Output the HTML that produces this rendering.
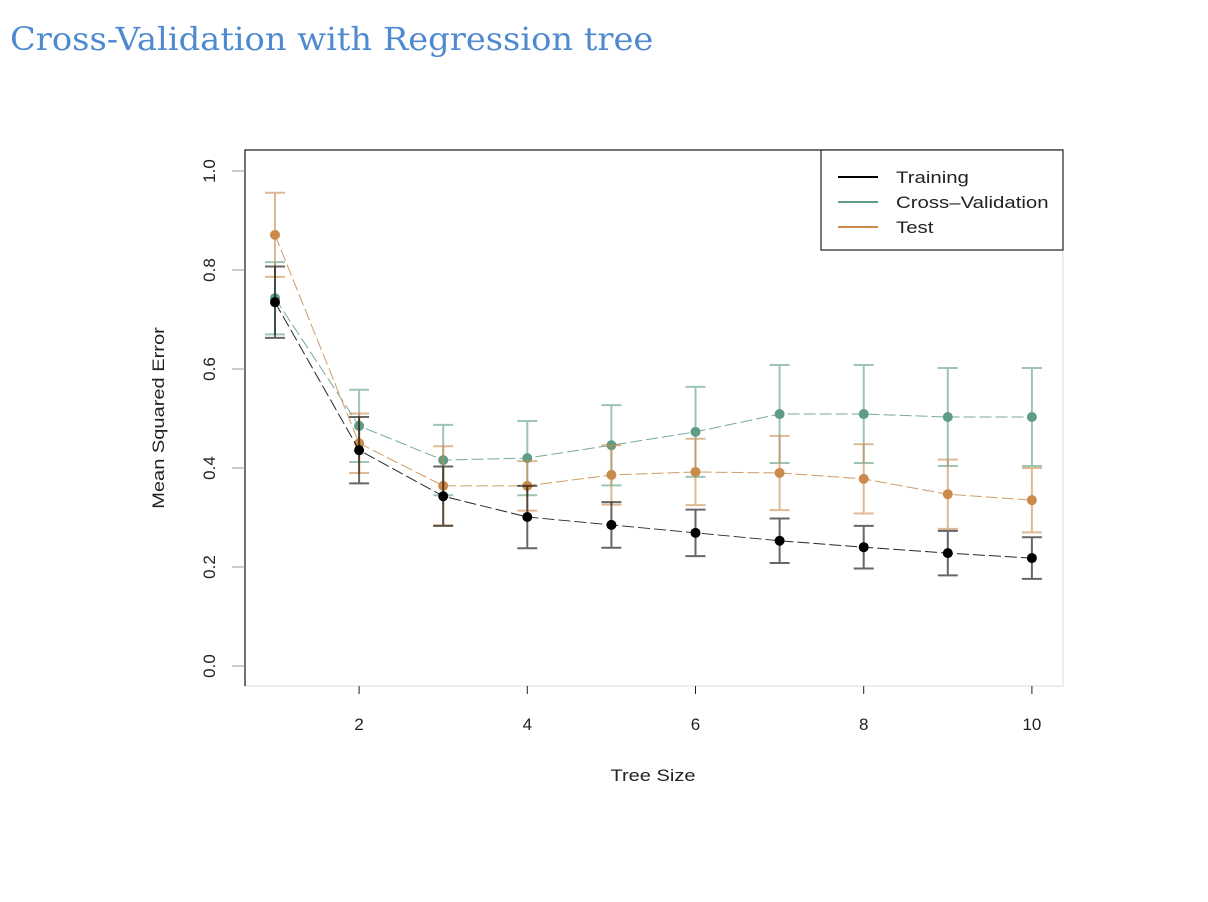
<!DOCTYPE html>
<html><head><meta charset="utf-8"><style>
body{margin:0;background:#fff;width:1208px;height:902px;overflow:hidden}
h1{position:absolute;left:10px;top:20px;margin:0;font:32px "DejaVu Serif","Liberation Serif",serif;color:#4f8ad0;font-weight:normal;white-space:nowrap;transform:scaleX(1.053);transform-origin:0 0}
svg{position:absolute;left:0;top:0}
text{font-family:"Liberation Sans",sans-serif;font-size:17px;fill:#222}
</style></head><body>
<h1>Cross-Validation with Regression tree</h1>
<svg id="c" width="1208" height="902"></svg>
<script>
const sizes=[1,2,3,4,5,6,7,8,9,10];
const trainVals=[0.735,0.436,0.343,0.301,0.285,0.269,0.253,0.240,0.228,0.218];
const trainSE=[0.072,0.067,0.06,0.063,0.046,0.047,0.045,0.043,0.045,0.042];
const cvVals=[0.743,0.485,0.416,0.420,0.446,0.473,0.509,0.509,0.503,0.503];
const cvSE=[0.073,0.073,0.071,0.075,0.081,0.091,0.099,0.099,0.099,0.099];
const testVals=[0.871,0.450,0.364,0.364,0.386,0.392,0.390,0.378,0.347,0.335];
const testSE=[0.085,0.06,0.08,0.05,0.06,0.067,0.075,0.07,0.07,0.065];
const xTicks=[2,4,6,8,10];
const yTicks=[0.0,0.2,0.4,0.6,0.8,1.0];
const svg=document.getElementById('c');const NS='http://www.w3.org/2000/svg';
const X=v=>275+(v-1)*84.1, Y=v=>666-v*495;
function mk(t,a,p){const e=document.createElementNS(NS,t);for(const k in a)e.setAttribute(k,a[k]);(p||svg).appendChild(e);return e;}
let e;
e=mk('rect',{x:245,y:150,width:818,height:536,fill:'none',stroke:'#ddd','stroke-width':1});


e=mk('path',{d:'M245,686V150H1063',fill:'none',stroke:'#222','stroke-width':1.3});


xTicks.forEach(t=>{
 e=mk('line',{x1:X(t),x2:X(t),y1:686,y2:694,stroke:'#222'});
 
 
 e=mk('text',{x:X(t),y:730,'text-anchor':'middle'});e.textContent=t;
 
 
});
yTicks.forEach(t=>{
 e=mk('line',{x1:232,x2:245,y1:Y(t),y2:Y(t),stroke:'#999'});
 
 
 e=mk('text',{x:0,y:0,'text-anchor':'middle',transform:`translate(215,${Y(t)}) rotate(-90)`});e.textContent=t.toFixed(1);
 
 
});
e=mk('text',{x:0,y:0,'text-anchor':'middle',transform:'translate(653,781) scale(1.18,1)'});e.textContent='Tree Size';


e=mk('text',{x:0,y:0,'text-anchor':'middle',transform:'translate(164,418) rotate(-90) scale(1.18,1)'});e.textContent='Mean Squared Error';


const series=[['cross-validation',cvVals,cvSE,'#5e9c86'],['test',testVals,testSE,'#c98a4b'],['training',trainVals,trainSE,'#000']];
series.forEach(([n,v,se,c])=>{
 const g=mk('g',{});
 
 
 e=mk('polyline',{points:sizes.map((s,i)=>X(s)+','+Y(v[i])).join(' '),fill:'none',stroke:c,'stroke-width':1,'stroke-dasharray':'12 4',opacity:0.85},g);
 
 
 sizes.forEach((s,i)=>{
  const x=X(s);
  e=mk('path',{d:`M${x},${Y(v[i]+se[i])}V${Y(v[i]-se[i])}M${x-10},${Y(v[i]+se[i])}h20M${x-10},${Y(v[i]-se[i])}h20`,stroke:c,'stroke-width':2,fill:'none',opacity:0.6},g);
  
  
  e=mk('circle',{cx:x,cy:Y(v[i]),r:5,fill:c},g);
  
  
 });
});
const lg=mk('g',{});


mk('rect',{x:821,y:150,width:242,height:100,fill:'#fff',stroke:'#222','stroke-width':1.2},lg);
[['Training','#000'],['Cross\u2013Validation','#5e9c86'],['Test','#c98a4b']].forEach(([t,c],i)=>{
 const y=177+i*25;
 e=mk('line',{x1:838,x2:878,y1:y,y2:y,stroke:c,'stroke-width':2},lg);
 
 
 e=mk('text',{x:0,y:0,transform:`translate(896,${y+6}) scale(1.2,1)`},lg);e.textContent=t;
 
 
});
</script>
</body></html>
